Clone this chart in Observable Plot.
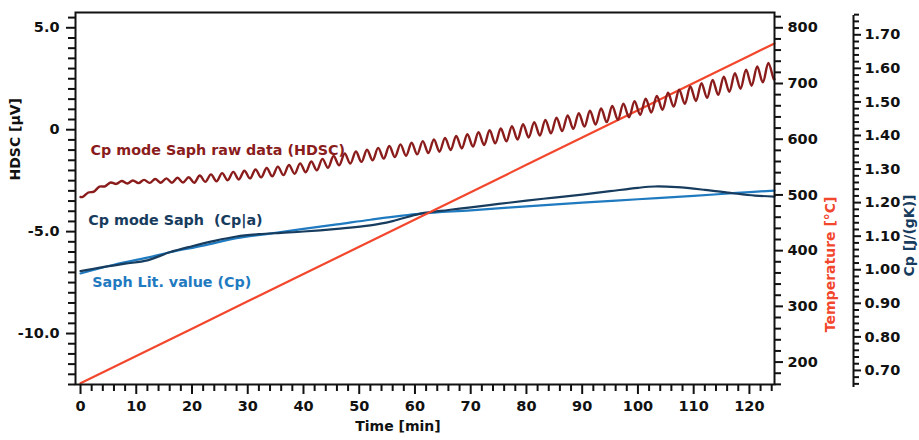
<!DOCTYPE html>
<html><head><meta charset="utf-8">
<script src="https://cdn.jsdelivr.net/npm/d3@7"></script>
<script src="https://cdn.jsdelivr.net/npm/@observablehq/plot@0.6"></script>
<style>body{margin:0;background:#fff} #chart svg{display:block}</style>
</head><body><div id="chart"></div>
<script>
// ---- data ----
const rawTime = [0, 0.4, 1.4, 2.4, 3.4, 4.4, 5.4, 6.4, 7.4, 8.4, 9.4,
  10.4, 11.4, 12.4, 13.4, 14.4, 15.4, 16.4, 17.4, 18.4, 19.4,
  20.4, 21.4, 22.4, 23.4, 24.4, 25.4, 26.4, 27.4, 28.4, 29.4,
  30.4, 31.4, 32.4, 33.4, 34.4, 35.4, 36.4, 37.4, 38.4, 39.4,
  40.4, 41.4, 42.4, 43.4, 44.4, 45.4, 46.4, 47.4, 48.4, 49.4,
  50.4, 51.4, 52.4, 53.4, 54.4, 55.4, 56.4, 57.4, 58.4, 59.4,
  60.4, 61.4, 62.4, 63.4, 64.4, 65.4, 66.4, 67.4, 68.4, 69.4,
  70.4, 71.4, 72.4, 73.4, 74.4, 75.4, 76.4, 77.4, 78.4, 79.4,
  80.4, 81.4, 82.4, 83.4, 84.4, 85.4, 86.4, 87.4, 88.4, 89.4,
  90.4, 91.4, 92.4, 93.4, 94.4, 95.4, 96.4, 97.4, 98.4, 99.4,
  100.4, 101.4, 102.4, 103.4, 104.4, 105.4, 106.4, 107.4, 108.4, 109.4,
  110.4, 111.4, 112.4, 113.4, 114.4, 115.4, 116.4, 117.4, 118.4, 119.4,
  120.4, 121.4, 122.4, 123.4, 124.4, 124.5];
const rawHDSC = [-3.30, -3.30, -3.08, -3.04, -2.79, -2.78, -2.59, -2.66, -2.52, -2.64, -2.49,
  -2.62, -2.46, -2.61, -2.42, -2.60, -2.39, -2.60, -2.36, -2.59, -2.33,
  -2.60, -2.25, -2.56, -2.19, -2.53, -2.13, -2.48, -2.07, -2.44, -2.01,
  -2.39, -1.95, -2.34, -1.88, -2.29, -1.81, -2.23, -1.73, -2.16, -1.65,
  -2.09, -1.56, -1.99, -1.43, -1.87, -1.29, -1.75, -1.17, -1.66, -1.07,
  -1.58, -0.98, -1.50, -0.89, -1.42, -0.80, -1.34, -0.72, -1.28, -0.64,
  -1.21, -0.56, -1.15, -0.48, -1.08, -0.40, -1.00, -0.31, -0.92, -0.22,
  -0.83, -0.12, -0.75, -0.03, -0.67, 0.06, -0.57, 0.17, -0.48, 0.27,
  -0.38, 0.37, -0.29, 0.48, -0.18, 0.59, -0.07, 0.70, 0.04, 0.81,
  0.15, 0.93, 0.25, 1.04, 0.37, 1.16, 0.49, 1.28, 0.61, 1.40,
  0.73, 1.52, 0.84, 1.65, 0.98, 1.81, 1.13, 1.96, 1.27, 2.12,
  1.41, 2.28, 1.56, 2.44, 1.71, 2.60, 1.86, 2.77, 2.01, 2.94,
  2.16, 3.10, 2.32, 3.27, 2.46, 2.48];

const tempTime = [0, 10, 20, 30, 40, 50, 60, 70, 80, 90, 100, 110, 120, 124.5];
const tempC    = [162, 211, 260, 309, 358, 407, 456, 505, 554, 603, 652, 701, 750, 772];

const cpaTime  = [0, 4, 8, 12, 16, 20, 24, 28, 32, 36, 40, 46, 52, 56, 61, 66, 70, 75, 80, 85, 90, 95, 100, 103, 107, 112, 117, 121, 124.5];
const cpaValue = [0.996, 1.008, 1.018, 1.028, 1.052, 1.070, 1.086, 1.099, 1.106, 1.110, 1.114, 1.122, 1.132, 1.145, 1.167, 1.178, 1.186, 1.196, 1.206, 1.215, 1.224, 1.234, 1.244, 1.248, 1.246, 1.238, 1.228, 1.221, 1.218];

const litTime  = [0, 6, 12, 16, 22, 28, 35, 40, 46, 52, 61, 70, 80, 90, 100, 110, 117, 124.5];
const litValue = [0.989, 1.015, 1.036, 1.052, 1.072, 1.094, 1.110, 1.122, 1.135, 1.149, 1.167, 1.177, 1.189, 1.200, 1.210, 1.220, 1.228, 1.236];

const timeTicks = [0, 10, 20, 30, 40, 50, 60, 70, 80, 90, 100, 110, 120];
const hdscTicks = [-10, -5, 0, 5];
const hdscLabels = ["-10.0", "-5.0", "0", "5.0"];
const tempTicks = [200, 300, 400, 500, 600, 700, 800];
const cpTicks = [0.7, 0.8, 0.9, 1.0, 1.1, 1.2, 1.3, 1.4, 1.5, 1.6, 1.7];

const seriesLabels = ["Cp mode Saph raw data (HDSC)", "Cp mode Saph  (Cp|a)", "Saph Lit. value (Cp)"];
const axisTitles = ["Time [min]", "HDSC [µV]", "Temperature [°C]", "Cp [J/(gK)]"];

// ---- styling / layout ----
const C = {raw: "#8a1c1c", temp: "#f2472d", cpa: "#173c5e", lit: "#1f7ac0", ink: "#111"};
const FONT = "'DejaVu Sans', sans-serif";

// secondary axes expressed in HDSC units
const t2h = d3.scaleLinear([200, 800], [-11.4, 5.0]);
const cp2h = d3.scaleLinear([0.70, 1.70], [-11.81, 4.656]);

const raw = rawTime.map((t, i) => ({t, v: rawHDSC[i]}));
const temp = tempTime.map((t, i) => ({t, v: t2h(tempC[i])}));
const cpa = cpaTime.map((t, i) => ({t, v: cp2h(cpaValue[i])}));
const lit = litTime.map((t, i) => ({t, v: cp2h(litValue[i])}));

const minorX = d3.range(0, 125, 2).filter(d => d % 10 !== 0);
const minorY = d3.range(-12.5, 5.6, 0.5).filter(d => d % 5 !== 0);
const minorT = d3.range(160, 821, 20).filter(d => d % 100 !== 0);
const minorCp = d3.range(66, 177, 2).filter(d => d % 10 !== 0).map(d => d / 100);

const ax = {strokeWidth: 2, fontSize: 14.5, fontWeight: 700, label: null, fill: C.ink, stroke: C.ink};
const lbl = {fontSize: 14.3, fontWeight: 700, textAnchor: "start"};
const ttl = {fontSize: 14, fontWeight: 700};

const chart = Plot.plot({
  width: 919, height: 440,
  marginLeft: 75, marginRight: 145, marginTop: 12, marginBottom: 56,
  style: {fontFamily: FONT, background: "#fff", color: C.ink},
  x: {domain: [-0.9, 124.5]},
  y: {domain: [-12.5, 5.75]},
  marks: [
    // data lines
    Plot.line(lit, {x: "t", y: "v", stroke: C.lit, strokeWidth: 2.2, curve: "catmull-rom"}),
    Plot.line(cpa, {x: "t", y: "v", stroke: C.cpa, strokeWidth: 2.2, curve: "catmull-rom"}),
    Plot.line(temp, {x: "t", y: "v", stroke: C.temp, strokeWidth: 2.2}),
    Plot.line(raw, {x: "t", y: "v", stroke: C.raw, strokeWidth: 2.4, curve: "catmull-rom"}),
    // series labels
    Plot.text([seriesLabels[0]], {x: [1.8], y: [-1.02], fill: C.raw, ...lbl}),
    Plot.text([seriesLabels[1]], {x: [1.4], y: [-4.45], fill: C.cpa, ...lbl}),
    Plot.text([seriesLabels[2]], {x: [2.1], y: [-7.5], fill: C.lit, ...lbl}),
    // frame
    Plot.frame({stroke: C.ink, strokeWidth: 2}),
    // x axis
    Plot.axisX(timeTicks, {...ax, anchor: "bottom", tickSize: 10, tickPadding: 6, tickFormat: d => String(d)}),
    Plot.axisX(minorX, {...ax, anchor: "bottom", tickSize: 7, tickFormat: () => ""}),
    // left HDSC axis
    Plot.axisY(hdscTicks, {...ax, anchor: "left", tickSize: 9, tickPadding: 7, tickFormat: d => hdscLabels[hdscTicks.indexOf(d)]}),
    Plot.axisY(minorY, {...ax, anchor: "left", tickSize: 7, tickFormat: () => ""}),
    // temperature axis (right of frame)
    Plot.axisY(tempTicks.map(t2h), {...ax, anchor: "right", tickSize: 8, tickPadding: 5, tickFormat: d => String(Math.round(t2h.invert(d)))}),
    Plot.axisY(minorT.map(t2h), {...ax, anchor: "right", tickSize: 6, tickFormat: () => ""}),
    // Cp axis (offset right)
    Plot.ruleX([124.5], {stroke: C.ink, strokeWidth: 2, dx: 79, dy: 3}),
    Plot.axisY(cpTicks.map(cp2h), {...ax, anchor: "right", dx: 79, tickSize: 7, tickPadding: 4, tickFormat: d => cp2h.invert(d).toFixed(2)}),
    Plot.axisY(minorCp.map(cp2h), {...ax, anchor: "right", dx: 79, tickSize: 5, tickFormat: () => ""}),
    // axis titles
    Plot.text([axisTitles[0]], {frameAnchor: "bottom", dx: -27, dy: 46, ...ttl, fill: C.ink}),
    Plot.text([axisTitles[1]], {frameAnchor: "left", dx: -60, dy: -18, rotate: -90, ...ttl, fill: C.ink}),
    Plot.text([axisTitles[2]], {frameAnchor: "right", dx: 56, dy: -2, rotate: -90, ...ttl, fill: C.temp}),
    Plot.text([axisTitles[3]], {frameAnchor: "right", dx: 135, dy: -4, rotate: -90, ...ttl, fill: C.cpa})
  ]
});
document.getElementById("chart").append(chart);
</script>
</body></html>
